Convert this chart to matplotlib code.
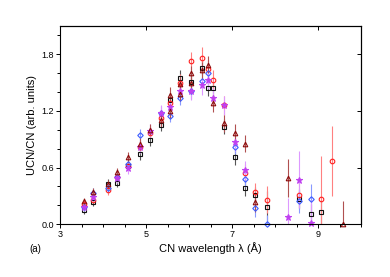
import numpy as np
import matplotlib
matplotlib.use("Agg")
import matplotlib.pyplot as plt
from matplotlib.ticker import MultipleLocator, FixedLocator

plt.rcParams["font.family"] = ["Liberation Sans", "DejaVu Sans"]

nan = np.nan
# CN wavelength grid (Angstrom)
lam = [3.56, 3.77, 4.12, 4.32, 4.58, 4.85, 5.08, 5.35, 5.56, 5.79, 6.04, 6.31, 6.44,
       6.56, 6.81, 7.06, 7.31, 7.54, 7.81, 8.06, 8.31, 8.56, 8.83, 9.07, 9.33, 9.57]

sq_y = [0.15, 0.23, 0.43, 0.44, 0.62, 0.74, 0.89, 1.05, 1.32, 1.55, 1.51, 1.66, 1.44,
        1.44, 1.03, 0.71, 0.38, 0.31, 0.18, nan, nan, 0.27, 0.11, 0.13, nan, nan]
sq_e = [0.04, 0.04, 0.05, 0.05, 0.05, 0.06, 0.06, 0.06, 0.07, 0.08, 0.08, 0.08, 0.08,
        0.08, 0.08, 0.08, 0.08, 0.08, 0.17, nan, nan, 0.1, 0.1, 0.13, nan, nan]

ci_y = [0.21, 0.26, 0.36, 0.50, 0.62, 0.82, 0.97, 1.12, 1.28, 1.50, 1.73, 1.76, 1.64,
        1.53, 1.26, nan, 0.54, 0.34, 0.26, nan, nan, 0.31, nan, 0.27, 0.67, nan]
ci_e = [0.04, 0.04, 0.05, 0.05, 0.05, 0.06, 0.06, 0.07, 0.08, 0.09, 0.1, 0.12, 0.1,
        0.1, 0.1, nan, 0.1, 0.1, 0.14, nan, nan, 0.15, nan, 0.45, 0.37, nan]

di_y = [0.18, 0.33, 0.385, 0.50, 0.64, 0.94, nan, 1.18, 1.15, 1.34, 1.41, 1.52, 1.60,
        nan, nan, 0.82, 0.48, 0.17, 0.0, nan, nan, 0.24, 0.27, nan, nan, nan]
di_e = [0.04, 0.05, 0.05, 0.05, 0.06, 0.07, nan, 0.07, 0.07, 0.08, 0.08, 0.08, 0.08,
        nan, nan, 0.08, 0.09, 0.1, 0.1, nan, nan, 0.12, 0.16, nan, nan, nan]

st_y = [0.18, 0.29, nan, 0.49, 0.59, 0.82, 0.99, 1.18, 1.24, 1.41, 1.41, 1.47, 1.53,
        1.34, 1.26, 0.87, 0.57, nan, nan, nan, 0.08, 0.47, 0.01, nan, nan, nan]
st_e = [0.04, 0.05, nan, 0.05, 0.06, 0.07, 0.07, 0.08, 0.08, 0.09, 0.09, 0.1, 0.1,
        0.1, 0.1, 0.1, 0.1, nan, nan, nan, 0.2, 0.3, 0.25, nan, nan, nan]

tr_y = [0.24, 0.34, 0.42, 0.55, 0.71, 0.85, 1.00, 1.10, 1.37, 1.49, 1.60, 1.63, 1.69,
        1.28, 1.07, 0.97, 0.85, 0.23, nan, nan, 0.49, nan, nan, nan, nan, 0.0]
tr_e = [0.04, 0.04, 0.05, 0.05, 0.05, 0.06, 0.06, 0.07, 0.08, 0.08, 0.08, 0.09, 0.09,
        0.09, 0.09, 0.09, 0.09, 0.1, nan, nan, 0.2, nan, nan, nan, nan, 0.25]
# extra triangle points where columns overlap
tr2_x = [5.56, 5.79, 6.04]
tr2_y = [1.20, 1.38, 1.50]
tr2_e = [0.07, 0.08, 0.08]

x_major = [3, 5, 7, 9]

fig = plt.figure(figsize=(3.9, 2.77), dpi=100)
ax = fig.add_axes([0.154, 0.191, 0.772, 0.715])

series = [
    (lam, sq_y, sq_e, "s", "#111111", "#555555", False),
    (lam, ci_y, ci_e, "o", "#ff2020", "#ff8080", False),
    (lam, di_y, di_e, "D", "#3b5bff", "#8899ff", False),
    (lam, st_y, st_e, "*", "#c040f0", "#dd99ff", True),
    (lam, tr_y, tr_e, "^", "#8b0a0a", "#b05050", False),
    (tr2_x, tr2_y, tr2_e, "^", "#8b0a0a", "#b05050", False),
]
for x, y, e, m, c, ec, filled in series:
    ms = 4.5 if m == "*" else (2.8 if m == "D" else 3.3)
    cont = ax.errorbar(x, y, yerr=e, fmt=m, ms=ms, mec=c, mfc=c if filled else "none",
                       mew=0.8, ecolor=ec, elinewidth=0.8, capsize=0)
    cont[0].set_clip_on(False)

ax.set_xlim(3, 10)
ax.set_ylim(0, 2.1)
ax.xaxis.set_major_locator(FixedLocator(x_major))
ax.xaxis.set_minor_locator(MultipleLocator(0.5))
ax.yaxis.set_major_locator(MultipleLocator(0.6))
ax.yaxis.set_minor_locator(MultipleLocator(0.2))
ax.yaxis.set_major_formatter(plt.FormatStrFormatter("%.1f"))
ax.tick_params(which="both", direction="out", labelsize=6.5, width=0.7, pad=1.5)
ax.tick_params(which="major", length=3)
ax.tick_params(which="minor", length=2)
for s in ax.spines.values():
    s.set_linewidth(0.8)

# top / right: inward majors only
top = ax.secondary_xaxis("top")
top.xaxis.set_major_locator(FixedLocator(x_major))
top.tick_params(direction="in", length=3, width=0.7, labeltop=False)
right = ax.secondary_yaxis("right")
right.yaxis.set_major_locator(MultipleLocator(0.6))
right.tick_params(direction="in", length=3, width=0.7, labelright=False)

ax.set_xlabel("CN wavelength λ (Å)", fontsize=8, labelpad=2)
ax.set_ylabel("UCN/CN (arb. units)", fontsize=8, labelpad=3)
fig.text(35 / 390, 1 - 249 / 277, "(a)", fontsize=7, ha="center", va="center")

fig.savefig("out.png", dpi=100)
